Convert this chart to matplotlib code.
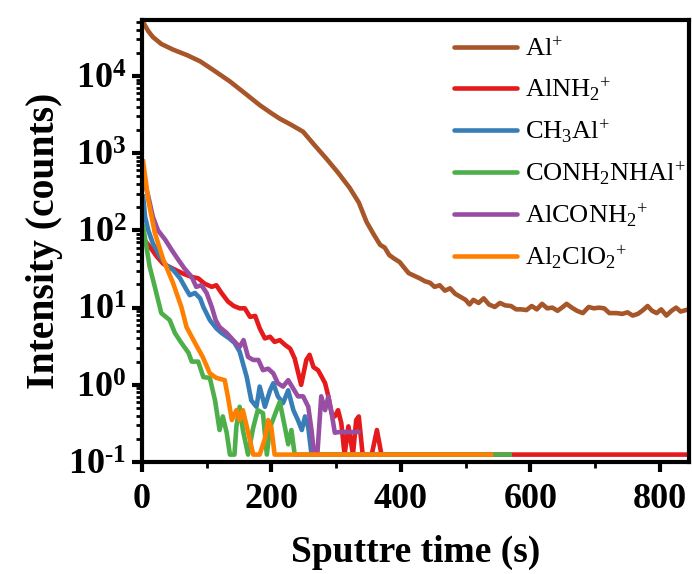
import matplotlib
matplotlib.use("Agg")
import matplotlib.pyplot as plt
from matplotlib.ticker import MultipleLocator, LogLocator, FuncFormatter, NullFormatter
import numpy as np

plt.rcParams['font.family'] = ['Liberation Serif', 'DejaVu Serif']
plt.rcParams['mathtext.fontset'] = 'custom'
plt.rcParams['mathtext.rm'] = 'Liberation Serif'
plt.rcParams['mathtext.bf'] = 'Liberation Serif:bold'
plt.rcParams['mathtext.it'] = 'Liberation Serif:italic'

BASE = 0.125

# Al+
al_x = [0, 3, 10, 17, 30, 48, 70, 90, 110, 136, 160, 182, 200, 213, 230, 249, 265, 285, 303, 321,
        335, 347, 358, 368, 375, 382, 390, 398, 405, 412, 420, 429, 437, 445, 452, 460, 468, 476,
        484, 492, 500, 506, 512, 520, 528, 536, 545, 553, 561, 570, 578, 586, 594, 602, 610, 618,
        626, 634, 642, 650, 656, 664, 672, 681, 690, 698, 706, 714, 722, 733, 742, 750, 758, 766,
        774, 781, 788, 795, 802, 810, 818, 825, 832, 840, 846]
al_y = [50000, 48000, 38000, 32000, 26000, 22000, 18600, 15500, 12000, 8500, 5900, 4200, 3300, 2800,
        2350, 1900, 1320, 850, 560, 355, 230, 129, 89, 65, 60, 48, 43, 39, 33, 28, 26, 24, 22, 21,
        18.6, 19.5, 16.6, 17.8, 15.1, 13.8, 12.6, 11.0, 12.6, 11.5, 13.2, 11.0, 10.2, 11.5, 10.7,
        10.5, 9.5, 9.5, 9.3, 10.5, 9.5, 11.2, 9.8, 10.0, 9.1, 10.2, 11.2, 10.0, 9.1, 8.5, 10.2, 9.8,
        10.0, 9.8, 8.5, 8.5, 8.3, 8.7, 7.9, 8.3, 9.3, 10.5, 9.1, 8.5, 9.5, 7.9, 9.1, 10.0, 8.9, 9.3,
        9.5]

# AlNH2+
nh_x = [2, 12, 23, 33, 48, 64, 77, 87, 97, 108, 115, 123, 133, 142, 151, 159, 167, 175, 182, 190,
        198, 205, 213, 221, 229, 236, 246, 254, 259, 265, 272, 278, 283, 288, 293, 298, 303, 308,
        313, 319, 326, 331, 335, 341, 355, 363, 370, 845]
nh_y = [79, 62, 46, 37, 32, 27.5, 25, 24, 20.4, 18.6, 19.5, 15.5, 12.0, 10.5, 9.8, 9.8, 7.6, 7.8,
        5.4, 4.0, 4.2, 3.6, 3.8, 3.3, 2.95, 2.2, 1.0, 2.1, 2.45, 1.7, 1.55, 1.26, 1.05, 0.71, 0.43,
        0.39, 0.47, 0.32, BASE, 0.29, BASE, 0.35, 0.39, BASE, BASE, 0.26, BASE, BASE]

# CH3Al+
ch_x = [2, 5, 10, 17, 28, 38, 48, 59, 69, 74, 82, 90, 95, 105, 115, 123, 135, 143, 151, 162, 169,
        177, 182, 190, 198, 203, 210, 218, 226, 234, 241, 247, 252, 257, 262, 400]
ch_y = [275, 150, 100, 68, 46, 35, 31, 24, 17, 14.5, 15.5, 13.2, 10.2, 6.9, 5.4, 4.7, 4.0, 3.5, 2.7,
        1.26, 0.63, 0.52, 0.95, 0.52, 0.85, 1.05, 0.71, 0.58, 0.85, 0.47, 0.35, 0.26, 0.39, 0.28,
        BASE, BASE]

# CONH2NHAl+
co_x = [2, 7, 12, 20, 30, 43, 51, 61, 72, 77, 87, 95, 105, 113, 120, 125, 131, 136, 143, 146, 151,
        156, 164, 172, 179, 187, 193, 198, 208, 213, 221, 226, 231, 236, 568]
co_y = [112, 62, 34, 18.6, 8.5, 6.9, 4.7, 3.5, 2.6, 2.0, 2.0, 1.26, 1.23, 0.63, 0.26, 0.39, 0.24,
        BASE, BASE, 0.29, 0.52, 0.26, BASE, 0.28, 0.47, 0.43, BASE, 0.28, 0.47, 0.60, 0.28, 0.17,
        0.26, BASE, BASE]

# AlCONH2+
ac_x = [2, 10, 17, 25, 36, 46, 56, 66, 77, 84, 92, 100, 108, 114, 120, 131, 141, 151, 157, 164,
        172, 180, 187, 195, 203, 210, 218, 226, 234, 241, 249, 257, 262, 266, 271, 277, 283, 288,
        293, 298, 305, 334]
ac_y = [500, 275, 150, 100, 76, 56, 42, 32, 25, 18.6, 19.5, 15.5, 10.2, 6.9, 5.6, 4.7, 3.8, 3.1,
        3.8, 2.3, 2.1, 2.1, 1.55, 1.62, 1.41, 1.05, 0.95, 1.15, 0.89, 0.71, 0.71, 0.52, 0.26, BASE,
        BASE, 0.71, 0.47, 0.71, 0.43, 0.24, 0.245, 0.245]

# Al2ClO2+
ao_x = [2, 10, 20, 33, 48, 61, 69, 82, 94, 105, 115, 128, 133, 139, 146, 151, 156, 162, 167, 172,
        182, 190, 195, 200, 205, 539]
ao_y = [780, 245, 93, 42, 21, 10.2, 5.6, 3.5, 2.3, 1.41, 1.23, 1.15, 0.69, 0.35, 0.47, 0.35, 0.47,
        0.29, 0.19, BASE, BASE, 0.2, 0.35, 0.28, BASE, BASE]

series = [
    (al_x, al_y, 'Al$^{+}$', '#A65628'),
    (nh_x, nh_y, 'AlNH$_{2}$$^{+}$', '#E41A1C'),
    (ch_x, ch_y, 'CH$_{3}$Al$^{+}$', '#377EB8'),
    (co_x, co_y, 'CONH$_{2}$NHAl$^{+}$', '#4DAF4A'),
    (ac_x, ac_y, 'AlCONH$_{2}$$^{+}$', '#984EA3'),
    (ao_x, ao_y, 'Al$_{2}$ClO$_{2}$$^{+}$', '#FF7F00'),
]

fig = plt.figure(figsize=(6.92, 5.74), dpi=100)
ax = fig.add_axes([0.205, 0.195, 0.7907, 0.770])

for x, y, lab, c in series:
    ax.plot(x, y, color=c, lw=3.3, label=lab, solid_joinstyle='round')

ax.set_yscale('log')
ax.set_xlim(0, 845)
ax.set_ylim(0.1, 53000)

def ylab(v, p):
    e = int(round(np.log10(v)))
    es = r'\text{-}%d' % abs(e) if e < 0 else '%d' % e
    return r'$\mathbf{10^{%s}}$' % es

ax.xaxis.set_major_locator(MultipleLocator(200))
ax.xaxis.set_minor_locator(MultipleLocator(100))
ax.yaxis.set_major_locator(LogLocator(base=10, numticks=20))
ax.yaxis.set_minor_locator(LogLocator(base=10, subs=np.arange(2, 10), numticks=20))
ax.yaxis.set_minor_formatter(NullFormatter())
ax.yaxis.set_major_formatter(FuncFormatter(ylab))

for s in ax.spines.values():
    s.set_linewidth(3.0)

ax.tick_params(which='major', direction='out', length=7, width=3, labelsize=26)
ax.tick_params(axis='x', which='major', pad=8)
ax.tick_params(axis='y', which='major', pad=4)
ax.tick_params(which='minor', direction='out', length=4, width=2)
ax.tick_params(top=False, right=False, which='both')
for lbl in ax.get_xticklabels():
    lbl.set_fontweight('bold')

ax.set_xlabel('Sputtre time (s)', fontsize=27, fontweight='bold', labelpad=14)
ax.set_ylabel('Intensity (counts)', fontsize=28.5, fontweight='bold', labelpad=4)

leg = ax.legend(loc='upper left', bbox_to_anchor=(0.570, 0.962), frameon=False, fontsize=19,
                handlelength=2.4, handletextpad=0.3, labelspacing=0.54, borderpad=0,
                borderaxespad=0)
for line in leg.get_lines():
    line.set_linewidth(3.3)
    line.set_solid_capstyle('round')

fig.savefig('out.png', dpi=100)
